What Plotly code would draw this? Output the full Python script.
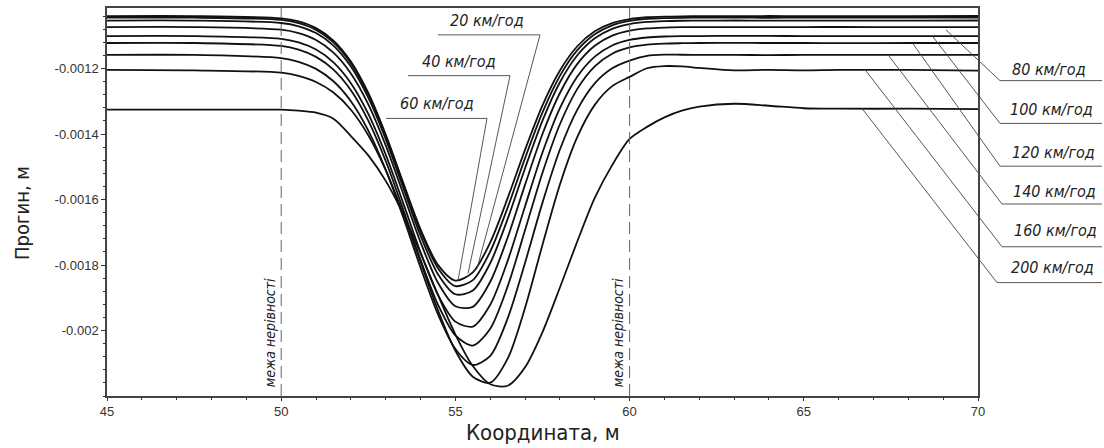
import plotly.graph_objects as go

# ---------------- data ----------------
coord_m = [45, 47.5, 50, 50.5, 51, 51.5, 52, 52.5, 53, 53.5, 54, 54.5, 55, 55.5,
           56, 56.5, 57, 57.5, 58, 58.5, 59, 59.5, 60, 60.5, 61, 61.5, 62, 63,
           64, 65, 66, 68, 70]

defl_20 = [-0.0010399, -0.0010399, -0.0010466, -0.0010562, -0.0010765, -0.0011145, -0.0011785,
           -0.0012745, -0.0014017, -0.0015483, -0.0016909, -0.0017995, -0.0018475, -0.0018224,
           -0.0017308, -0.0015957, -0.0014474, -0.0013121, -0.0012056, -0.0011318, -0.0010863,
           -0.0010613, -0.0010489, -0.0010433, -0.0010411, -0.0010403, -0.0010399, -0.0010399,
           -0.0010395, -0.0010399, -0.0010402, -0.0010399, -0.0010395]
defl_40 = [-0.0010444, -0.0010444, -0.0010513, -0.0010612, -0.0010817, -0.0011196, -0.0011834,
           -0.0012788, -0.0014054, -0.0015522, -0.0016966, -0.0018095, -0.0018642, -0.0018461,
           -0.0017587, -0.0016245, -0.0014736, -0.0013339, -0.0012223, -0.0011439, -0.0010951,
           -0.0010680, -0.0010544, -0.0010483, -0.0010457, -0.0010448, -0.0010444, -0.0010444,
           -0.0010448, -0.0010444, -0.0010441, -0.0010444, -0.0010444]
defl_60 = [-0.0010535, -0.0010535, -0.0010608, -0.0010709, -0.0010916, -0.0011298, -0.0011937,
           -0.0012890, -0.0014157, -0.0015633, -0.0017103, -0.0018280, -0.0018893, -0.0018780,
           -0.0017942, -0.0016591, -0.0015042, -0.0013588, -0.0012417, -0.0011592, -0.0011075,
           -0.0010785, -0.0010641, -0.0010576, -0.0010549, -0.0010539, -0.0010535, -0.0010532,
           -0.0010535, -0.0010538, -0.0010535, -0.0010535, -0.0010532]
defl_80 = [-0.0010733, -0.0010733, -0.0010812, -0.0010918, -0.0011129, -0.0011514, -0.0012150,
           -0.0013093, -0.0014347, -0.0015817, -0.0017306, -0.0018543, -0.0019261, -0.0019277,
           -0.0018512, -0.0017158, -0.0015544, -0.0013998, -0.0012746, -0.0011858, -0.0011304,
           -0.0010995, -0.0010842, -0.0010774, -0.0010747, -0.0010737, -0.0010733, -0.0010733,
           -0.0010736, -0.0010733, -0.0010730, -0.0010733, -0.0010733]
defl_100 = [-0.0011006, -0.0011006, -0.0011092, -0.0011203, -0.0011420, -0.0011810, -0.0012446,
            -0.0013385, -0.0014630, -0.0016102, -0.0017614, -0.0018911, -0.0019729, -0.0019878,
            -0.0019211, -0.0017872, -0.0016203, -0.0014565, -0.0013211, -0.0012242, -0.0011633,
            -0.0011294, -0.0011125, -0.0011051, -0.0011021, -0.0011010, -0.0011006, -0.0011000,
            -0.0011003, -0.0011006, -0.0011009, -0.0011006, -0.0011006]
defl_120 = [-0.0011219, -0.0011219, -0.0011310, -0.0011423, -0.0011642, -0.0012031, -0.0012661,
            -0.0013589, -0.0014824, -0.0016297, -0.0017840, -0.0019211, -0.0020151, -0.0020459,
            -0.0019943, -0.0018651, -0.0016932, -0.0015182, -0.0013700, -0.0012620, -0.0011933,
            -0.0011547, -0.0011356, -0.0011270, -0.0011237, -0.0011225, -0.0011219, -0.0011216,
            -0.0011219, -0.0011219, -0.0011222, -0.0011219, -0.0011219]
defl_140 = [-0.0011584, -0.0011584, -0.0011680, -0.0011793, -0.0012009, -0.0012388, -0.0012997,
            -0.0013893, -0.0015090, -0.0016533, -0.0018079, -0.0019507, -0.0020567, -0.0021052,
            -0.0020773, -0.0019628, -0.0017929, -0.0016094, -0.0014473, -0.0013252, -0.0012452,
            -0.0011991, -0.0011756, -0.0011610, -0.0011575, -0.0011578, -0.0011584, -0.0011584,
            -0.0011587, -0.0011584, -0.0011581, -0.0011584, -0.0011584]
defl_160 = [-0.0012040, -0.0012055, -0.0012125, -0.0012224, -0.0012409, -0.0012733, -0.0013257,
            -0.0014037, -0.0015100, -0.0016425, -0.0017909, -0.0019381, -0.0020619, -0.0021410,
            -0.0021594, -0.0020860, -0.0019305, -0.0017379, -0.0015539, -0.0014086, -0.0013108,
            -0.0012537, -0.0012253, -0.0011990, -0.0011925, -0.0011934, -0.0011979, -0.0012055,
            -0.0012040, -0.0012055, -0.0012040, -0.0012040, -0.0012060]
defl_200 = [-0.0013256, -0.0013256, -0.0013256, -0.0013287, -0.0013347, -0.0013530, -0.0014060,
            -0.0014651, -0.0015431, -0.0016439, -0.0017634, -0.0018914, -0.0020123, -0.0021086,
            -0.0021643, -0.0021686, -0.0021121, -0.0020048, -0.0018686, -0.0017275, -0.0015950,
            -0.0014950, -0.0014150, -0.0013780, -0.0013490, -0.0013287, -0.0013165, -0.0013074,
            -0.0013135, -0.0013211, -0.0013226, -0.0013226, -0.0013241]

speed_labels = ["20 км/год", "40 км/год", "60 км/год", "80 км/год", "100 км/год",
                "120 км/год", "140 км/год", "160 км/год", "200 км/год"]
series = [defl_20, defl_40, defl_60, defl_80, defl_100, defl_120, defl_140, defl_160, defl_200]

x_tick_vals = [45, 50, 55, 60, 65, 70]
x_tick_text = ["45", "50", "55", "60", "65", "70"]
y_tick_vals = [-0.0012, -0.0014, -0.0016, -0.0018, -0.002]
y_tick_text = ["-0.0012", "-0.0014", "-0.0016", "-0.0018", "-0.002"]
bound_x = [50, 60]
bound_label = "межа нерівності"

# ---------------- layout helpers (pixel -> paper) ----------------
W, H = 1104, 448
ML, MR, MT, MB = 107, 126, 6, 52
PW, PH = W - ML - MR, H - MT - MB


def px(x):
    return (x - ML) / PW


def py(y):
    return (H - MB - y) / PH


NARROW = "DejaVu Sans Condensed, DejaVu Sans, sans-serif"
LABEL_FONT = dict(family=NARROW, size=16, color="#222", style="italic")

fig = go.Figure()
for name, ys in zip(speed_labels, series):
    fig.add_trace(go.Scatter(x=coord_m, y=ys, mode="lines", name=name,
                             line=dict(color="#111", width=1.8, shape="spline", smoothing=0.8),
                             showlegend=False, hoverinfo="skip"))

shapes = []
for bx in bound_x:
    shapes.append(dict(type="line", xref="x", yref="paper", x0=bx, x1=bx, y0=0, y1=1,
                       line=dict(color="#666", width=1, dash="12px,6px")))

# label placement: (text centre x, y), underline (x0, x1, y), leader start, leader end
left_lab = [
    (0, (487, 19), (438, 540, 33), (540, 33), (477, 268)),
    (1, (459, 60), (408, 510, 74), (510, 74), (468, 273)),
    (2, (437, 102), (386, 487, 117), (487, 117), (458, 280)),
]
right_lab = [
    (3, (1049, 68), (1000, 1102, 79), (1000, 79), (946, 28)),
    (4, (1051, 108), (1000, 1102, 122), (1000, 122), (933, 35)),
    (5, (1053, 151), (1000, 1102, 165), (1000, 165), (913, 42)),
    (6, (1054, 190), (1002, 1102, 203), (1002, 203), (888, 53)),
    (7, (1055, 230), (1002, 1102, 246), (1002, 246), (865, 68)),
    (8, (1052, 267), (997, 1102, 282), (997, 282), (862, 107)),
]
annotations = []
for idx, (cx, cy), (u0, u1, uy), (s0x, s0y), (s1x, s1y) in left_lab + right_lab:
    annotations.append(dict(text=speed_labels[idx], xref="paper", yref="paper",
                            x=px(cx), y=py(cy), xanchor="center", yanchor="middle",
                            showarrow=False, font=LABEL_FONT))
    shapes.append(dict(type="line", xref="paper", yref="paper", x0=px(u0), x1=px(u1),
                       y0=py(uy), y1=py(uy), line=dict(color="#444", width=0.9)))
    shapes.append(dict(type="line", xref="paper", yref="paper", x0=px(s0x), x1=px(s1x),
                       y0=py(s0y), y1=py(s1y), line=dict(color="#444", width=0.9)))

for cx in (270, 618):
    annotations.append(dict(text=bound_label, xref="paper", yref="paper", x=px(cx), y=py(333),
                            xanchor="center", yanchor="middle", textangle=-90, showarrow=False,
                            font=dict(family=NARROW, size=14, color="#222", style="italic")))

annotations.append(dict(text="Прогин, м", xref="paper", yref="paper", x=px(22), y=py(212),
                        xanchor="center", yanchor="middle", textangle=-90, showarrow=False,
                        font=dict(family=NARROW, size=20, color="#222")))
annotations.append(dict(text="Координата, м", xref="paper", yref="paper", x=px(543), y=py(433),
                        xanchor="center", yanchor="middle", showarrow=False,
                        font=dict(family=NARROW, size=22, color="#222")))

tick_font = dict(family="Liberation Sans, Arial, sans-serif", size=13, color="#333")
fig.update_layout(
    width=W, height=H, margin=dict(l=ML, r=MR, t=MT, b=MB),
    paper_bgcolor="white", plot_bgcolor="white",
    shapes=shapes, annotations=annotations,
    xaxis=dict(range=[45, 70], tickmode="array", tickvals=x_tick_vals, ticktext=x_tick_text,
               ticks="outside", ticklen=3, tickcolor="#333", tickfont=tick_font,
               showline=True, linecolor="#444", linewidth=1.5, mirror=True,
               showgrid=False, zeroline=False,
               minor=dict(tickmode="linear", tick0=45, dtick=1, ticks="outside", ticklen=2,
                          tickcolor="#333", showgrid=False)),
    yaxis=dict(range=[-0.0022, -0.001015], tickmode="array", tickvals=y_tick_vals,
               ticktext=y_tick_text, ticks="outside", ticklen=4, tickcolor="#333",
               tickfont=tick_font, showline=True, linecolor="#444", linewidth=1.5,
               mirror=True, showgrid=False, zeroline=False,
               minor=dict(tickmode="linear", tick0=-0.002, dtick=0.00004, ticks="outside",
                          ticklen=2, tickcolor="#333", showgrid=False)),
)

fig.write_html("out.html")
